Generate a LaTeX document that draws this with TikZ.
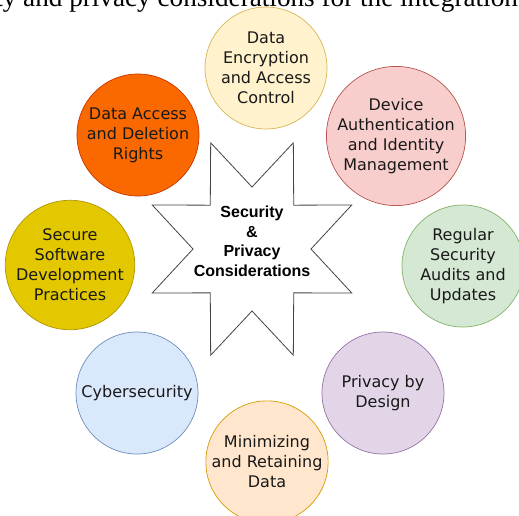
\documentclass[tikz,border=0pt]{standalone}
\usepackage{fontspec}
\setmainfont{Liberation Serif}
\newfontfamily\topicfont{DejaVu Sans}
\newfontfamily\hubfont{Liberation Sans}
\usepackage{tikz}
\definecolor{encFill}{HTML}{FFF2CC}\definecolor{encLine}{HTML}{D6B656}
\definecolor{devFill}{HTML}{F8CECC}\definecolor{devLine}{HTML}{B85450}
\definecolor{audFill}{HTML}{D5E8D4}\definecolor{audLine}{HTML}{82B366}
\definecolor{prvFill}{HTML}{E1D5E7}\definecolor{prvLine}{HTML}{9673A6}
\definecolor{minFill}{HTML}{FFE6CC}\definecolor{minLine}{HTML}{D79B00}
\definecolor{cybFill}{HTML}{DAE8FC}\definecolor{cybLine}{HTML}{6C8EBF}
\definecolor{sdlFill}{HTML}{E3C800}\definecolor{sdlLine}{HTML}{B09500}
\definecolor{accFill}{HTML}{FA6800}\definecolor{accLine}{HTML}{C73500}
\definecolor{burstLine}{HTML}{444444}
\tikzstyle{topic} = [circle, minimum size=122pt, inner sep=0pt, align=center, line width=0.7pt, text=black!90, font={\topicfont\fontsize{16}{20}\selectfont}]
\tikzstyle{burst} = [draw=burstLine, fill=white, line width=0.8pt, line join=miter]
\tikzstyle{hub} = [align=center, inner sep=0pt, font={\hubfont\bfseries\fontsize{16}{19.5}\selectfont}]

\begin{document}
\begin{tikzpicture}[x=1pt, y=-1pt]
            \useasboundingbox (0,0) rectangle (519,515);
            \clip (0,0) rectangle (519,515);

            % Running text cut off above the figure
            \node[anchor=base west, inner sep=0pt, font=\fontsize{27.2}{32}\selectfont] (caption) at (23,6.5) {\llap{security\ }and privacy considerations for the integration};

            % Topics around the star
            \node[topic, draw=encLine, fill=encFill] (encryption) at (266,68) {Data\\Encryption\\and Access\\Control};
            \node[topic, draw=devLine, fill=devFill] (device) at (396,136) {Device\\Authentication\\and Identity\\Management};
            \node[topic, draw=audLine, fill=audFill] (audits) at (463,266) {Regular\\Security\\Audits and\\Updates};
            \node[topic, draw=prvLine, fill=prvFill] (design) at (383,393) {Privacy by\\Design};
            \node[topic, draw=minLine, fill=minFill] (minimizing) at (267,462) {Minimizing\\and Retaining\\Data};
            \node[topic, draw=cybLine, fill=cybFill] (cyber) at (137,393) {Cybersecurity};
            \node[topic, draw=sdlLine, fill=sdlFill] (software) at (70,265) {Secure\\Software\\Development\\Practices};
            \node[topic, draw=accLine, fill=accFill] (rights) at (138,135) {Data Access\\and Deletion\\Rights};

            % Eight-pointed star in the middle
            \draw[burst] plot[variable=\i, samples at={0,...,15}]
                ({252+ifthenelse(mod(\i,2)==0,59,108)*cos(\i*22.5)}, {249-ifthenelse(mod(\i,2)==0,62,115)*sin(\i*22.5)}) -- cycle;
            \node[hub] (core) at (252,241.5) {Security\\\&\\Privacy\\Considerations};

        \end{tikzpicture}
\end{document}
